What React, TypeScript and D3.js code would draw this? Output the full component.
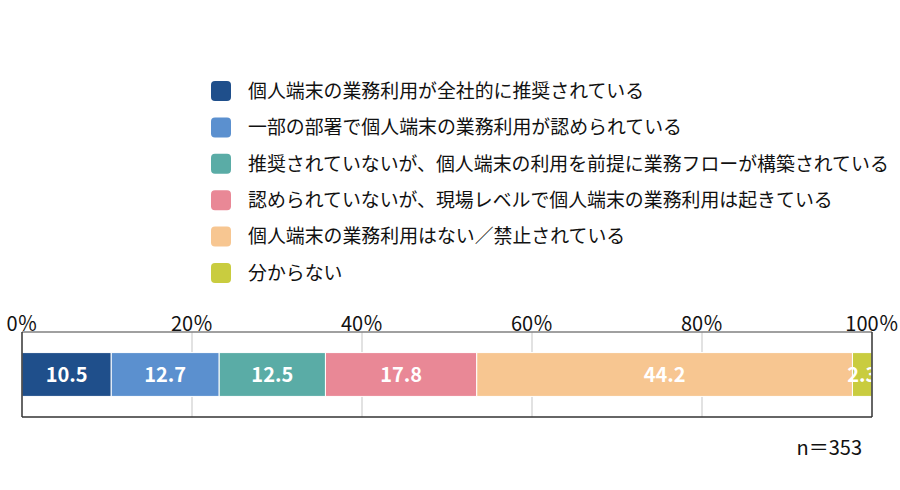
import { useEffect, useRef } from "react";
import * as d3 from "d3";

// categories (legend order = stack order)
const categories = [
  "個人端末の業務利用が全社的に推奨されている",
  "一部の部署で個人端末の業務利用が認められている",
  "推奨されていないが、個人端末の利用を前提に業務フローが構築されている",
  "認められていないが、現場レベルで個人端末の業務利用は起きている",
  "個人端末の業務利用はない／禁止されている",
  "分からない",
];
const values = [10.5, 12.7, 12.5, 17.8, 44.2, 2.3];
const colors = ["#1f4f8b", "#5b90cf", "#5aaca6", "#e98896", "#f7c691", "#c9cc3f"];
const ticks = [0, 20, 40, 60, 80, 100];
const sampleNote = "n＝353";

const W = 900;
const H = 490;
const FONT = "'Noto Sans CJK JP', 'Noto Sans', sans-serif";

const App: React.FC = () => {
  const svgRef = useRef<SVGSVGElement | null>(null);

  useEffect(() => {
    if (!svgRef.current) return;
    const svg = d3.select(svgRef.current);
    svg.selectAll("*").remove();

    const plot = { left: 22, right: 872, top: 332, bottom: 417 };
    const x = d3.scaleLinear().domain([0, 100]).range([plot.left, plot.right]);
    const y = d3.scaleBand().domain(["all"]).range([plot.top, plot.bottom]).paddingInner(0).paddingOuter(0.47);

    // legend
    const legend = svg.append("g").attr("transform", "translate(211,81)");
    categories.forEach((c, i) => {
      const g = legend.append("g").attr("transform", `translate(0,${i * 36.4})`);
      g.append("rect")
        .attr("width", 20)
        .attr("height", 20)
        .attr("rx", 4)
        .attr("fill", colors[i]);
      g.append("text")
        .attr("x", 37)
        .attr("y", 10)
        .attr("dy", "0.36em")
        .attr("font-family", FONT)
        .attr("font-size", 18.9)
        .attr("fill", "#111")
        .text(c);
    });

    // gridlines
    svg.append("g")
      .selectAll("line")
      .data(ticks.filter(t => t > 0 && t < 100))
      .enter()
      .append("line")
      .attr("x1", d => x(d))
      .attr("x2", d => x(d))
      .attr("y1", plot.top)
      .attr("y2", plot.bottom)
      .attr("stroke", "#d9d9d9")
      .attr("stroke-width", 1.5);

    // stacked bar
    const starts = d3.cumsum([0, ...values.slice(0, -1)]);
    const bars = svg.append("g");
    bars.selectAll("rect")
      .data(values)
      .enter()
      .append("rect")
      .attr("x", (_, i) => x(starts[i]))
      .attr("y", y("all") as number)
      .attr("width", d => x(d) - x(0))
      .attr("height", y.bandwidth())
      .attr("fill", (_, i) => colors[i])
      .attr("stroke", "#fff")
      .attr("stroke-width", 1);

    bars.selectAll("text")
      .data(values)
      .enter()
      .append("text")
      .attr("x", (d, i) => x(starts[i] + d / 2))
      .attr("y", (y("all") as number) + y.bandwidth() / 2)
      .attr("dy", "0.36em")
      .attr("text-anchor", "middle")
      .attr("font-family", FONT)
      .attr("font-weight", "bold")
      .attr("font-size", 20)
      .attr("fill", "#fff")
      .text(d => d.toFixed(1));

    // frame
    svg.append("line")
      .attr("x1", plot.left).attr("x2", plot.right)
      .attr("y1", plot.top).attr("y2", plot.top)
      .attr("stroke", "#808080").attr("stroke-width", 1.5);
    svg.append("line")
      .attr("x1", plot.left).attr("x2", plot.right)
      .attr("y1", plot.bottom).attr("y2", plot.bottom)
      .attr("stroke", "#333").attr("stroke-width", 1.5);
    svg.append("line")
      .attr("x1", plot.left).attr("x2", plot.left)
      .attr("y1", plot.top).attr("y2", plot.bottom)
      .attr("stroke", "#333").attr("stroke-width", 1.5);
    svg.append("line")
      .attr("x1", plot.right).attr("x2", plot.right)
      .attr("y1", plot.top).attr("y2", plot.bottom)
      .attr("stroke", "#333").attr("stroke-width", 1.5);

    // tick labels
    svg.append("g")
      .selectAll("text")
      .data(ticks)
      .enter()
      .append("text")
      .attr("x", d => x(d))
      .attr("y", 331)
      .attr("text-anchor", "middle")
      .attr("font-family", FONT)
      .attr("font-size", 20)
      .attr("fill", "#111")
      .text(d => `${d}％`);

    svg.append("text")
      .attr("x", 862)
      .attr("y", 455)
      .attr("text-anchor", "end")
      .attr("font-family", FONT)
      .attr("font-size", 20)
      .attr("fill", "#111")
      .text(sampleNote);
  }, []);

  return (
    <svg
      ref={svgRef}
      width={W}
      height={H}
      viewBox={`0 0 ${W} ${H}`}
      style={{ position: "absolute", left: 0, top: 0, background: "#fff" }}
    />
  );
};

export default App;
